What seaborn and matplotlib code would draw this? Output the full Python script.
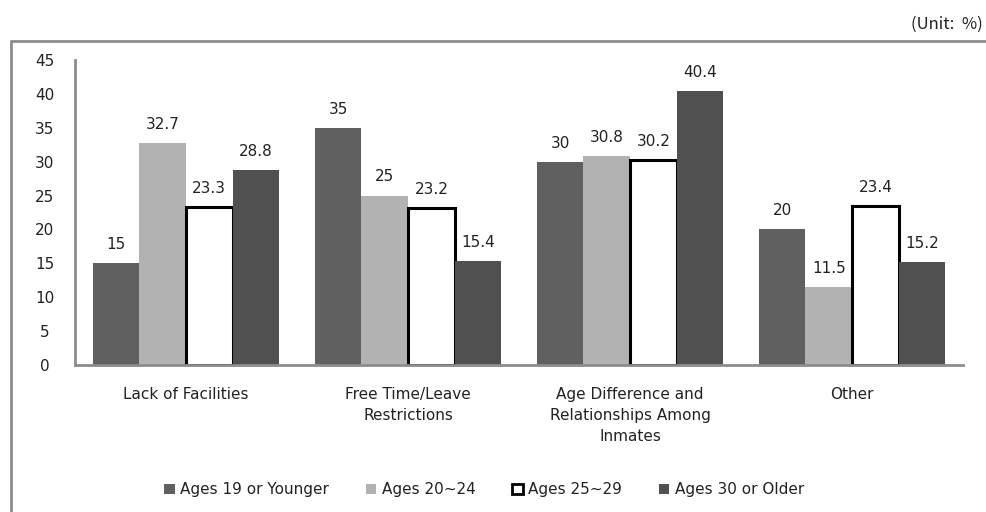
import matplotlib
matplotlib.use("Agg")
import matplotlib.pyplot as plt
from matplotlib.patches import Patch
from matplotlib.lines import Line2D
import seaborn as sns
import pandas as pd

categories = [
    "Lack of Facilities",
    "Free Time/Leave\nRestrictions",
    "Age Difference and\nRelationships Among\nInmates",
    "Other",
]
series_names = ["Ages 19 or Younger", "Ages 20~24", "Ages 25~29", "Ages 30 or Older"]
ages_19_or_younger = [15, 35, 30, 20]
ages_20_24 = [32.7, 25, 30.8, 11.5]
ages_25_29 = [23.3, 23.2, 30.2, 23.4]
ages_30_or_older = [28.8, 15.4, 40.4, 15.2]
y_ticks = [0, 5, 10, 15, 20, 25, 30, 35, 40, 45]

fills = ["#606060", "#b2b2b2", "#ffffff", "#505050"]

rows = []
for name, vals in zip(series_names,
                      [ages_19_or_younger, ages_20_24, ages_25_29, ages_30_or_older]):
    for cat, v in zip(categories, vals):
        rows.append({"category": cat, "group": name, "value": v})
df = pd.DataFrame(rows)

sns.set_theme(style="white")
plt.rcParams["font.family"] = ["DejaVu Sans"]

fig = plt.figure(figsize=(9.86, 5.12), dpi=100)
ax = fig.add_axes([0.0761, 0.2871, 0.9006, 0.5957])

sns.barplot(data=df, x="category", y="value", hue="group",
            order=categories, hue_order=series_names,
            palette=fills, width=0.84, gap=0, saturation=1,
            legend=False, ax=ax)

for i, cont in enumerate(ax.containers):
    for bar in cont:
        if i == 2:
            bar.set_edgecolor("black")
            bar.set_linewidth(2.2)
        else:
            bar.set_edgecolor("none")
    vals = [bar.get_height() for bar in cont]
    labels = [f"{v:g}" for v in vals]
    ax.bar_label(cont, labels=labels, padding=8, fontsize=11, color="#222222")

ax.set_ylim(0, 45)
ax.set_xlim(-0.5, 3.5)
ax.set_yticks(y_ticks)
ax.set_yticklabels([str(t) for t in y_ticks], ha="center", fontsize=11, color="#222222")
ax.tick_params(axis="y", length=0, pad=22)
ax.tick_params(axis="x", length=0, pad=16, labelsize=11, labelcolor="#222222")
for lab in ax.get_xticklabels():
    lab.set_linespacing(1.5)
ax.set_xlabel("")
ax.set_ylabel("")
for side in ["top", "right"]:
    ax.spines[side].set_visible(False)
for side in ["left", "bottom"]:
    ax.spines[side].set_color("#8c8c8c")
    ax.spines[side].set_linewidth(2)

handles = [
    Patch(facecolor=fills[0], edgecolor="none"),
    Patch(facecolor=fills[1], edgecolor="none"),
    Patch(facecolor="white", edgecolor="black", linewidth=2),
    Patch(facecolor=fills[3], edgecolor="none"),
]
fig.legend(handles, series_names, loc="center", bbox_to_anchor=(0.491, 0.043),
           ncol=4, frameon=False, fontsize=11, handlelength=0.7, handleheight=0.7,
           handletextpad=0.35, columnspacing=2.4, labelcolor="#222222")

# outer frame (top and left edges)
fig.add_artist(Line2D([0.0112, 1.0], [0.919, 0.919], transform=fig.transFigure,
                      color="#8c8c8c", linewidth=2))
fig.add_artist(Line2D([0.0112, 0.0112], [0.0, 0.919], transform=fig.transFigure,
                      color="#8c8c8c", linewidth=2))

fig.text(0.997, 0.952, "(Unit:  %)", ha="right", va="center", fontsize=12,
         color="#222222", family=["Noto Sans CJK KR", "DejaVu Sans"])

fig.savefig("out.png", dpi=100)
